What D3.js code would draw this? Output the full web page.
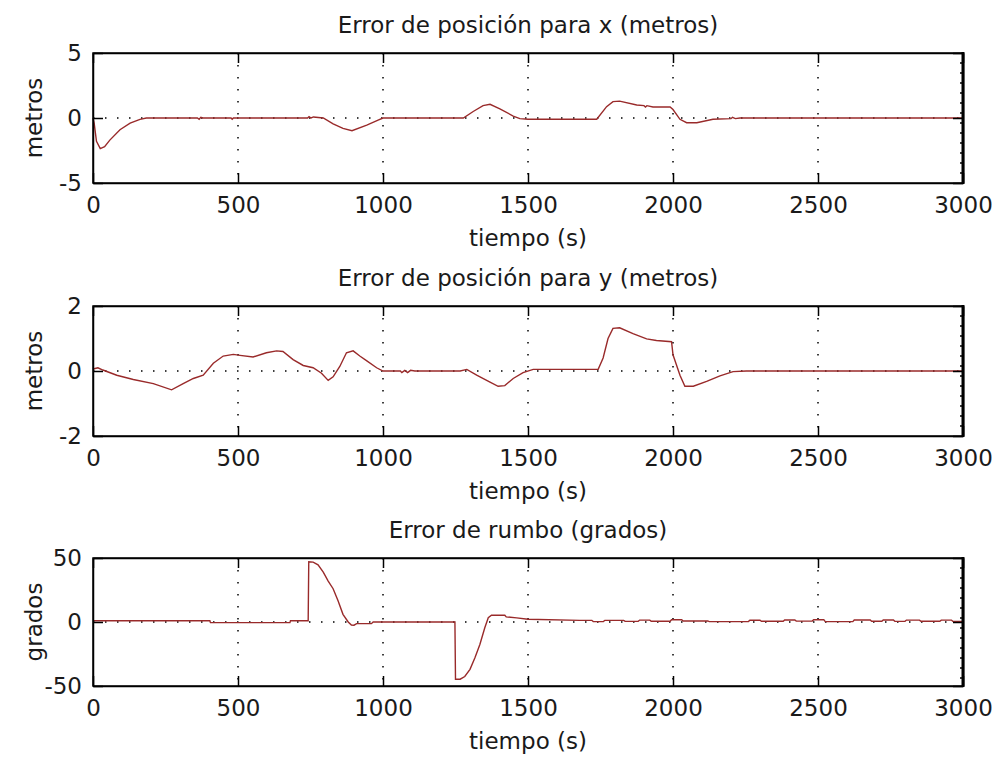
<!DOCTYPE html>
<html>
<head>
<meta charset="utf-8">
<script src="https://cdn.jsdelivr.net/npm/d3@7"></script>
<style>
  body { margin: 0; background: #fff; }
  svg { display: block; }
  text { font-family: "DejaVu Sans", sans-serif; fill: #1a1a1a; }
</style>
</head>
<body>
<svg id="chart" width="994" height="762"></svg>
<script>
// time ticks shared by the three panels
const timeTicks = [0, 500, 1000, 1500, 2000, 2500, 3000];

// [tiempo (s), error]
const errorX = [
  [0, 0], [4, -0.4], [12, -1.8], [25, -2.35], [40, -2.2], [58, -1.7], [93, -0.9],
  [128, -0.4], [162, -0.1], [184, 0], [360, 0], [366, -0.1], [372, 0.05], [378, 0],
  [476, 0], [480, -0.1], [484, 0], [740, 0], [745, 0.1], [752, 0], [760, 0.08], [794, 0],
  [828, -0.45], [862, -0.8], [893, -0.98], [944, -0.55], [985, -0.15], [1000, 0],
  [1277, 0], [1311, 0.5], [1345, 0.95], [1369, 1.05], [1403, 0.7], [1449, 0.15],
  [1472, -0.05], [1500, -0.1], [1737, -0.1], [1771, 0.87], [1793, 1.26], [1816, 1.3],
  [1875, 1.0], [1900, 0.95], [1905, 0.85], [1910, 0.95], [1931, 0.85], [1990, 0.85],
  [2000, 0.65], [2024, -0.1], [2047, -0.36], [2082, -0.36], [2138, -0.1], [2200, -0.05],
  [2205, 0.05], [2215, -0.05], [2231, 0], [3000, 0]
];

const errorY = [
  [0, 0.06], [17, 0.1], [34, 0.03], [82, -0.13], [139, -0.26], [208, -0.39], [271, -0.58],
  [311, -0.39], [346, -0.23], [380, -0.13], [415, 0.24], [449, 0.46], [484, 0.51],
  [507, 0.48], [552, 0.43], [598, 0.56], [633, 0.62], [655, 0.6], [690, 0.35], [725, 0.17],
  [759, 0.1], [788, -0.07], [811, -0.29], [828, -0.18], [851, 0.14], [874, 0.56],
  [897, 0.62], [920, 0.46], [943, 0.32], [978, 0.1], [1000, 0], [1060, 0], [1065, -0.05],
  [1075, 0.02], [1085, -0.05], [1095, 0.02], [1110, 0], [1266, 0], [1289, 0.05],
  [1323, -0.13], [1369, -0.34], [1397, -0.47], [1420, -0.45], [1449, -0.23], [1483, -0.05],
  [1518, 0.05], [1742, 0.05], [1759, 0.4], [1776, 1.0], [1793, 1.31], [1816, 1.33],
  [1862, 1.15], [1909, 0.99], [1943, 0.94], [1995, 0.9], [2000, 0.5], [2024, -0.13],
  [2041, -0.47], [2070, -0.47], [2116, -0.32], [2162, -0.15], [2207, -0.02], [2253, 0],
  [3000, 0]
];

const errorRumbo = [
  [0, 1], [403, 1], [405, -0.5], [679, -0.5], [681, 1], [742, 1], [744, 47], [759, 46.8],
  [776, 44.7], [794, 39], [811, 32], [828, 26], [845, 16.6], [862, 6], [880, 0],
  [891, -2.4], [900, -2.5], [909, -1.3], [960, -1.3], [966, 0], [1248, 0], [1250, -44.7],
  [1266, -44.7], [1282, -42.6], [1300, -37], [1317, -28], [1334, -17.6], [1351, -4.5],
  [1363, 3.4], [1374, 5.3], [1420, 5.3], [1425, 4], [1461, 3.2], [1500, 2.1], [1679, 1.3],
  [1720, 1.3], [1725, 0.3], [1760, 0.3], [1765, 1.3], [1830, 1.3], [1835, 0.5],
  [1880, 0.5], [1885, 1.5], [1920, 1.5], [1925, 0.6], [1990, 0.6], [1995, 1.8],
  [2030, 1.8], [2035, 0.8], [2120, 0.8], [2125, 0.3], [2260, 0.3], [2265, 1.4],
  [2300, 1.4], [2305, 0.6], [2380, 0.6], [2385, 1.6], [2420, 1.6], [2425, 0.7],
  [2480, 0.7], [2485, 1.8], [2520, 1.8], [2525, 0.3], [2620, 0.3], [2625, 1.6],
  [2680, 1.6], [2685, 0.6], [2720, 0.6], [2725, 1.6], [2760, 1.6], [2765, 0.5],
  [2800, 0.5], [2805, 1.5], [2850, 1.5], [2855, 0.6], [2920, 0.6], [2925, 1.5],
  [2960, 1.5], [2965, 0.5], [3000, 0.5]
];

const panels = [
  { title: "Error de posición para x (metros)", ylabel: "metros",
    data: errorX, yTicks: [-5, 0, 5], top: 53, h: 130 },
  { title: "Error de posición para y (metros)", ylabel: "metros",
    data: errorY, yTicks: [-2, 0, 2], top: 306, h: 130 },
  { title: "Error de rumbo (grados)", ylabel: "grados",
    data: errorRumbo, yTicks: [-50, 0, 50], top: 558, h: 128 }
];

const left = 93, right = 963;
const fontSize = 23;
const lineColor = "#992a2a";
const plain = (d) => String(d); // matlab style: 1000, -5
const svg = d3.select("#chart");

const x = d3.scaleLinear().domain([0, 3000]).range([left, right]);

panels.forEach((p) => {
  const bottom = p.top + p.h;
  const y = d3.scaleLinear()
    .domain(d3.extent(p.yTicks))
    .range([bottom, p.top]);
  const g = svg.append("g");

  // dotted grid
  g.append("g")
    .selectAll("line")
    .data(timeTicks.slice(1, -1))
    .join("line")
    .attr("x1", (d) => x(d)).attr("x2", (d) => x(d))
    .attr("y1", p.top).attr("y2", bottom)
    .attr("stroke", "#000").attr("stroke-width", 1.5)
    .attr("stroke-dasharray", "1.5,10.5");
  g.append("g")
    .selectAll("line")
    .data(p.yTicks.slice(1, -1))
    .join("line")
    .attr("x1", left).attr("x2", right)
    .attr("y1", (d) => y(d)).attr("y2", (d) => y(d))
    .attr("stroke", "#000").attr("stroke-width", 1.5)
    .attr("stroke-dasharray", "1.5,10.5");

  // the signal
  g.append("path")
    .datum(p.data)
    .attr("fill", "none")
    .attr("stroke", lineColor)
    .attr("stroke-width", 1.4)
    .attr("d", d3.line().x((d) => x(d[0])).y((d) => y(d[1])));

  // axes, ticks pointing inward
  const xAxis = g.append("g")
    .attr("transform", `translate(0,${bottom})`)
    .call(d3.axisBottom(x).tickValues(timeTicks).tickFormat(plain)
      .tickSize(-10).tickPadding(14).tickSizeOuter(0));
  g.append("g")
    .attr("transform", `translate(0,${p.top})`)
    .call(d3.axisTop(x).tickValues(timeTicks).tickSize(-10).tickFormat("").tickSizeOuter(0));
  const yAxis = g.append("g")
    .attr("transform", `translate(${left},0)`)
    .call(d3.axisLeft(y).tickValues(p.yTicks).tickFormat(plain)
      .tickSize(-10).tickPadding(11).tickSizeOuter(0));
  g.append("g")
    .attr("transform", `translate(${right},0)`)
    .call(d3.axisRight(y).tickValues(p.yTicks).tickSize(-10).tickFormat("").tickSizeOuter(0));

  [xAxis, yAxis].forEach((a) => {
    a.selectAll("text")
      .attr("font-size", fontSize)
      .attr("font-family", "DejaVu Sans")
      .attr("fill", "#1a1a1a");
  });
  g.selectAll(".domain").attr("stroke", "#000").attr("stroke-width", 1.5);
  g.selectAll(".tick line").attr("stroke", "#000").attr("stroke-width", 1.5);

  // frame, right edge drawn heavier like the original
  g.append("rect")
    .attr("x", left).attr("y", p.top)
    .attr("width", right - left).attr("height", p.h)
    .attr("fill", "none").attr("stroke", "#000").attr("stroke-width", 1.5);
  g.append("line")
    .attr("x1", right).attr("x2", right)
    .attr("y1", p.top - 1).attr("y2", bottom + 1)
    .attr("stroke", "#000").attr("stroke-width", 3);
  g.selectAll("line.notch")
    .data(d3.range(p.top + 10, bottom - 4, 10))
    .join("line")
    .attr("x1", right - 3).attr("x2", right)
    .attr("y1", (d) => d).attr("y2", (d) => d)
    .attr("stroke", "#000").attr("stroke-width", 1.5);

  // labels
  g.append("text")
    .attr("x", (left + right) / 2)
    .attr("y", p.top - 20)
    .attr("text-anchor", "middle")
    .attr("font-size", fontSize)
    .text(p.title);
  g.append("text")
    .attr("x", (left + right) / 2)
    .attr("y", bottom + 63)
    .attr("text-anchor", "middle")
    .attr("font-size", fontSize)
    .text("tiempo (s)");
  g.append("text")
    .attr("transform", `translate(42,${(p.top + bottom) / 2}) rotate(-90)`)
    .attr("text-anchor", "middle")
    .attr("font-size", fontSize)
    .text(p.ylabel);
});
</script>
</body>
</html>
